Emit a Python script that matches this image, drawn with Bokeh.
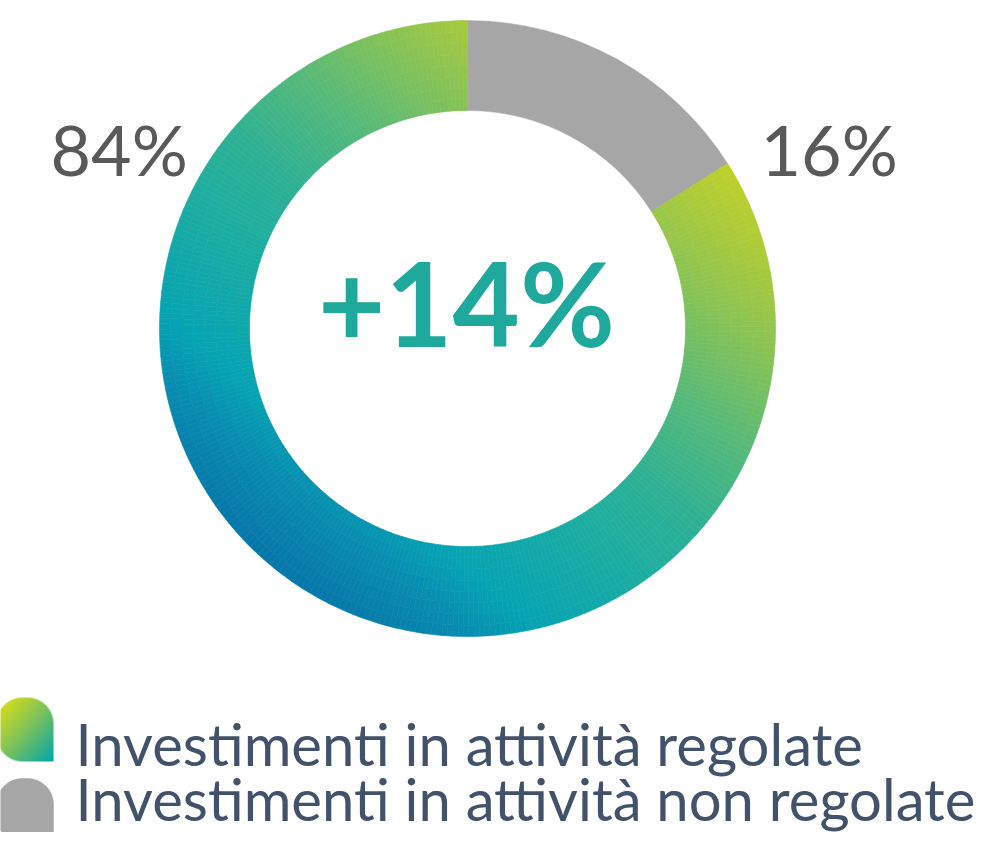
import numpy as np
from bokeh.plotting import figure
from bokeh.models import Range1d, ColumnDataSource
from bokeh.core.properties import value
from bokeh.embed import file_html
from bokeh.resources import INLINE

# ---------------- data ----------------
categories = ["Investimenti in attività regolate", "Investimenti in attività non regolate"]
shares = [84, 16]
share_labels = ["84%", "16%"]
center_label = "+14%"

# ---------------- style ----------------
GRAY = "#a6a6a6"
LABEL_COLOR = "#595959"
LEGEND_COLOR = "#41526a"
CENTER_COLOR = "#1ea99c"
FONT = "Lato"

# gradient stops (position along gradient axis in px, colour)
GRAD_STOPS = [(-308, "#0675a8"), (-234, "#088cb0"), (-187, "#05a3b3"), (-60, "#20ae9e"),
              (0, "#2eb093"), (84, "#55b97a"), (185, "#8ec451"), (233, "#a6c93e"),
              (287, "#bcd02c"), (308, "#c4d326")]
GRAD_ANGLE = np.deg2rad(50)

# data units == screen pixels of the figure, y measured upward from its bottom
W, H = 983, 832
BASE_FIX = 0.39  # svg alphabetic-baseline correction (in em)


def sy(y_screen):
    return H - y_screen


def sb(y_screen, fs):
    return H - y_screen + BASE_FIX * fs


CX, CY = 467, sy(328)
R_IN, R_OUT = 218, 308


def hex2rgb(h):
    h = h.lstrip("#")
    return np.array([int(h[i:i + 2], 16) for i in (0, 2, 4)], dtype=float)


stop_pos = np.array([s[0] for s in GRAD_STOPS], dtype=float)
stop_rgb = np.array([hex2rgb(s[1]) for s in GRAD_STOPS])


def grad_color(u):
    rgb = [np.interp(u, stop_pos, stop_rgb[:, k]) for k in range(3)]
    return "#%02x%02x%02x" % tuple(int(round(c)) for c in rgb)


p = figure(width=W, height=H, x_range=Range1d(0, W), y_range=Range1d(0, H),
           output_backend="svg", toolbar_location=None, min_border=0)
p.axis.visible = False
p.grid.visible = False
p.outline_line_color = None
p.background_fill_color = "white"
p.border_fill_color = "white"

# ---------------- donut ----------------
total = float(sum(shares))
start = np.pi / 2
reg_end = start + 2 * np.pi * shares[0] / total
non_end = start + 2 * np.pi

# non-regulated slice (gray)
p.annular_wedge(x=[CX], y=[CY], inner_radius=R_IN, outer_radius=R_OUT,
                start_angle=[reg_end], end_angle=[non_end],
                fill_color=GRAY, line_color=GRAY, line_width=0.5)

# regulated slice with linear gradient, split into small cells
n_ang = int(round(np.rad2deg(reg_end - start)))
n_rad = 8
a_edges = np.linspace(start, reg_end, n_ang + 1)
r_edges = np.linspace(R_IN, R_OUT, n_rad + 1)
cells = dict(x=[], y=[], ri=[], ro=[], sa=[], ea=[], c=[])
for i in range(n_ang):
    am = 0.5 * (a_edges[i] + a_edges[i + 1])
    for j in range(n_rad):
        rm = 0.5 * (r_edges[j] + r_edges[j + 1])
        u = rm * np.cos(am) * np.cos(GRAD_ANGLE) + rm * np.sin(am) * np.sin(GRAD_ANGLE)
        cells["x"].append(CX)
        cells["y"].append(CY)
        cells["ri"].append(r_edges[j])
        cells["ro"].append(r_edges[j + 1])
        cells["sa"].append(a_edges[i])
        cells["ea"].append(a_edges[i + 1])
        cells["c"].append(grad_color(u))
src = ColumnDataSource(cells)
p.annular_wedge(x="x", y="y", inner_radius="ri", outer_radius="ro",
                start_angle="sa", end_angle="ea", fill_color="c", line_color="c",
                line_width=0.6, source=src)

# ---------------- labels ----------------
LBL_FS = 70
p.text(x=[50], y=[sb(176, LBL_FS)], text=[share_labels[0]], text_font=value(FONT),
       text_font_size=f"{LBL_FS}px", text_color=LABEL_COLOR, text_baseline="alphabetic",
       text_align="left")
p.text(x=[760], y=[sb(176, LBL_FS)], text=[share_labels[1]], text_font=value(FONT),
       text_font_size=f"{LBL_FS}px", text_color=LABEL_COLOR, text_baseline="alphabetic",
       text_align="left")
CEN_FS = 116
p.text(x=[466], y=[sb(347, CEN_FS)], text=[center_label], text_font=value(FONT),
       text_font_size=f"{CEN_FS}px", text_font_style="bold", text_color=CENTER_COLOR,
       text_baseline="alphabetic", text_align="center")

# ---------------- legend ----------------
MX0, MW, MH, MR = -4, 57, 64, 26
M1_TOP, M2_TOP = 697, 778
LEG_FS = 58


def inside_mask(px, py, w, h, r):
    m = (px >= 0) & (px <= w) & (py >= 0) & (py <= h)
    tl = (px < r) & (py < r)
    tr = (px > w - r) & (py < r)
    bl = (px < r) & (py > h - r)
    m &= ~(tl & ((px - r) ** 2 + (py - r) ** 2 > r ** 2))
    m &= ~(tr & ((px - (w - r)) ** 2 + (py - r) ** 2 > r ** 2))
    m &= ~(bl & ((px - r) ** 2 + (py - (h - r)) ** 2 > r ** 2))
    return m


def marker_outline(x0, ytop, w, h, r):
    pts = []
    for t in np.linspace(np.pi, np.pi / 2, 16):
        pts.append((x0 + r + r * np.cos(t), ytop - r + r * np.sin(t)))
    for t in np.linspace(np.pi / 2, 0, 16):
        pts.append((x0 + w - r + r * np.cos(t), ytop - r + r * np.sin(t)))
    pts.append((x0 + w, ytop - h))
    for t in np.linspace(-np.pi / 2, -np.pi, 16):
        pts.append((x0 + r + r * np.cos(t), ytop - h + r + r * np.sin(t)))
    xs, ys = zip(*pts)
    return list(xs), list(ys)


# gradient marker (image)
ss = 4
yy, xx = np.mgrid[0:MH * ss, 0:MW * ss]
pxs = (xx + 0.5) / ss
pys = (yy + 0.5) / ss
mask = inside_mask(pxs, pys, MW, MH, MR).astype(float)
alpha = mask.reshape(MH, ss, MW, ss).mean(axis=(1, 3))
gy, gx = np.mgrid[0:MH, 0:MW]
t = ((gx + 0.5) / MW + (gy + 0.5) / MH) / 2.0
leg_stops = np.array([0.0, 0.5, 1.0])
leg_rgb = np.array([hex2rgb("#ece40a"), hex2rgb("#80c45a"), hex2rgb("#00a6ab")])
img = np.empty((MH, MW), dtype=np.uint32)
view = img.view(dtype=np.uint8).reshape((MH, MW, 4))
for k in range(3):
    view[:, :, k] = np.interp(t, leg_stops, leg_rgb[:, k]).astype(np.uint8)
view[:, :, 3] = (alpha * 255).astype(np.uint8)
p.image_rgba(image=[img[::-1]], x=MX0, y=sy(M1_TOP + MH), dw=MW, dh=MH)

# gray marker
gx_, gy_ = marker_outline(MX0, sy(M2_TOP), MW, MH, MR)
p.patch(gx_, gy_, fill_color=GRAY, line_color=GRAY, line_width=0.5)

p.text(x=[75, 75], y=[sb(766, LEG_FS), sb(821, LEG_FS)], text=categories,
       text_font=value(FONT), text_font_size=f"{LEG_FS}px", text_color=LEGEND_COLOR,
       text_baseline="alphabetic", text_align="left")

open("out.html", "w").write(file_html(p, INLINE))
